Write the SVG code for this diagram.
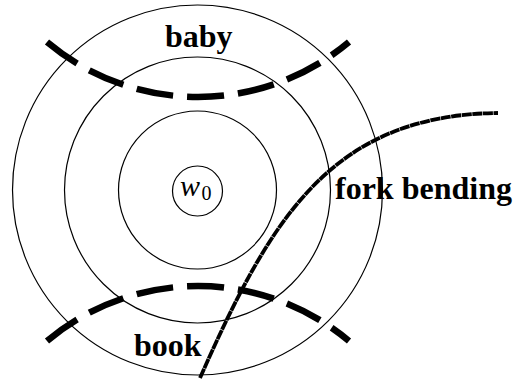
<svg xmlns="http://www.w3.org/2000/svg" width="515" height="381" viewBox="0 0 515 381">
<style>
.ring{fill:none;stroke:#000;stroke-width:1.2}
.cut{fill:none;stroke:#000;stroke-width:6.5;stroke-dasharray:37 14;stroke-linecap:butt}
.fork{fill:none;stroke:#000;stroke-width:3.8;stroke-dasharray:10 0.6}
.lbl{font-family:"Liberation Serif","Times New Roman",serif;font-weight:bold;font-size:32px;fill:#000}
.w{font-family:"Liberation Serif","Times New Roman",serif;font-style:italic;font-size:30px;fill:#000}
.sub{font-family:"Liberation Serif","Times New Roman",serif;font-size:20px;fill:#000}
</style>
<rect width="515" height="381" fill="#fff"/>
<g id="rings">
<circle class="ring" cx="197.5" cy="190" r="185"/>
<circle class="ring" cx="197.5" cy="190" r="133"/>
<circle class="ring" cx="197.5" cy="190" r="79"/>
</g>
<g id="w0">
<circle class="ring" cx="197.5" cy="191" r="25"/>
<text x="180" y="196" class="w">w</text>
<text x="201.5" y="200" class="sub">0</text>
</g>
<g id="connectors">
<path id="baby-cut" class="cut" d="M47,42 A235,235 0 0 0 349,42"/>
<path id="book-cut" class="cut" d="M47,341 A235,235 0 0 1 349,341"/>
<path id="fork-cut" class="fork" d="M200,378 C270,220 330,115 498,113"/>
</g>
<g id="baby"><text x="165" y="47" class="lbl">baby</text></g>
<g id="book"><text x="134" y="356" class="lbl">book</text></g>
<g id="fork-bending"><text x="335" y="199" class="lbl">fork bending</text></g>
</svg>
